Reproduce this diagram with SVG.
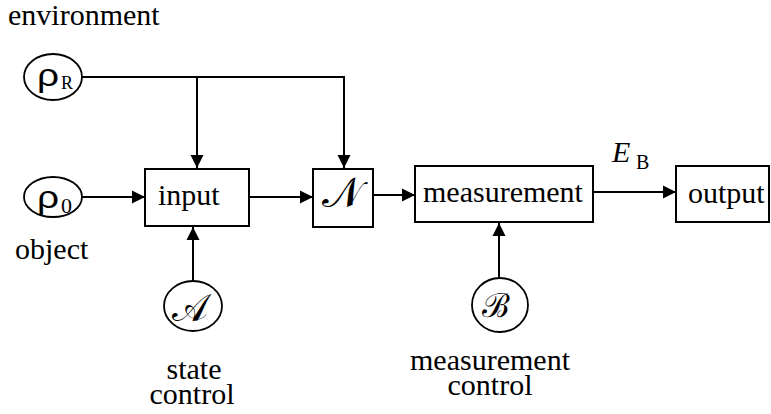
<svg xmlns="http://www.w3.org/2000/svg" width="771" height="414" viewBox="0 0 771 414">
<style>
.box{fill:#fff;stroke:#000;stroke-width:2}
.circ{fill:#fff;stroke:#000;stroke-width:1.8}
.ln{fill:none;stroke:#000;stroke-width:2}
.t{font-family:'Liberation Serif',serif;font-size:30px;fill:#000}
.sub{font-family:'Liberation Serif',serif;fill:#000}
.rho{font-family:'Liberation Sans',sans-serif;font-size:31px;fill:#000}
.scr{font-family:'DejaVu Serif',serif;fill:#000}
</style>
<defs>
<marker id="ah" markerUnits="userSpaceOnUse" markerWidth="14" markerHeight="14" viewBox="0 0 14 14" refX="13" refY="7" orient="auto">
<path d="M0,0.5 L13,7 L0,13.5 Z" fill="#000"/>
</marker>
</defs>
<rect x="0" y="0" width="771" height="414" fill="#fff"/>
<g id="connectors">
<polyline class="ln" points="82,77 344,77 344,168" marker-end="url(#ah)"/>
<line class="ln" x1="197" y1="77" x2="197" y2="168" marker-end="url(#ah)"/>
<line class="ln" x1="82" y1="197" x2="145" y2="197" marker-end="url(#ah)"/>
<line class="ln" x1="249" y1="197" x2="313" y2="197" marker-end="url(#ah)"/>
<line class="ln" x1="373" y1="195" x2="415" y2="195" marker-end="url(#ah)"/>
<line class="ln" x1="593" y1="192" x2="676" y2="192" marker-end="url(#ah)"/>
<line class="ln" x1="193" y1="281" x2="193" y2="227" marker-end="url(#ah)"/>
<line class="ln" x1="499" y1="278" x2="499" y2="223" marker-end="url(#ah)"/>
</g>
<g id="env-label"><text class="t" x="8" y="25">environment</text></g>
<g id="rhoR">
<ellipse class="circ" cx="53" cy="77" rx="29" ry="23"/>
<text class="rho" transform="translate(37,86) scale(1.25,1)" x="0" y="0">ρ</text>
<text class="sub" x="61" y="89" style="font-size:18px">R</text>
</g>
<g id="rho0">
<ellipse class="circ" cx="53" cy="197" rx="29" ry="20"/>
<text class="rho" transform="translate(37,208) scale(1.25,1)" x="0" y="0">ρ</text>
<text class="sub" x="61" y="213" style="font-size:22px">0</text>
</g>
<g id="obj-label"><text class="t" x="15" y="259">object</text></g>
<g id="input">
<rect class="box" x="145" y="169" width="104" height="57"/>
<text class="t" x="158" y="205">input</text>
</g>
<g id="N">
<rect class="box" x="313" y="169" width="60" height="58"/>
<text class="scr" x="342" y="207" text-anchor="middle" style="font-size:42px">𝒩</text>
</g>
<g id="measurement">
<rect class="box" x="415" y="166" width="178" height="56"/>
<text class="t" x="423" y="202">measurement</text>
</g>
<g id="EB">
<text class="t" x="612" y="162" style="font-style:italic">E</text>
<text class="sub" x="636" y="169" style="font-size:20px">B</text>
</g>
<g id="output">
<rect class="box" x="676" y="166" width="93" height="56"/>
<text class="t" x="688" y="203">output</text>
</g>
<g id="A">
<ellipse class="circ" cx="193" cy="306" rx="29" ry="25"/>
<text class="scr" x="190" y="321" text-anchor="middle" style="font-size:38px">𝒜</text>
</g>
<g id="B">
<ellipse class="circ" cx="500" cy="305" rx="28" ry="27"/>
<text class="scr" x="496" y="317" text-anchor="middle" style="font-size:33px">ℬ</text>
</g>
<g id="state-label">
<text class="t" x="194" y="379" text-anchor="middle">state</text>
<text class="t" x="192" y="404" text-anchor="middle">control</text>
</g>
<g id="meas-label">
<text class="t" x="490" y="370" text-anchor="middle">measurement</text>
<text class="t" x="490" y="395" text-anchor="middle">control</text>
</g>
</svg>
